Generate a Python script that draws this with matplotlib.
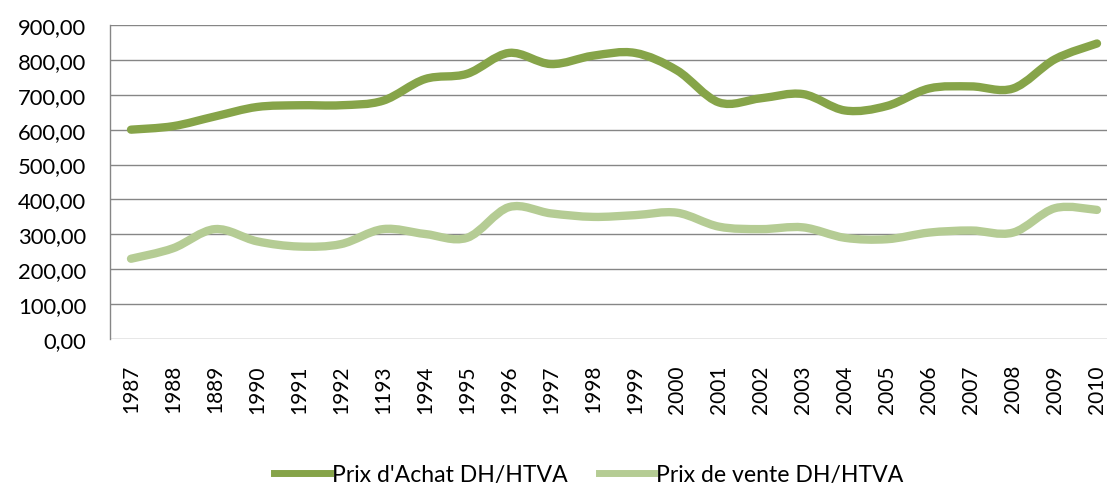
import matplotlib
matplotlib.use("Agg")
import matplotlib.pyplot as plt
from matplotlib.path import Path
from matplotlib.patches import PathPatch
from matplotlib.lines import Line2D
from matplotlib.ticker import FuncFormatter
import numpy as np

# data (tick labels kept as printed, typos included)
years = ["1987", "1988", "1889", "1990", "1991", "1992", "1193", "1994", "1995",
         "1996", "1997", "1998", "1999", "2000", "2001", "2002", "2003", "2004",
         "2005", "2006", "2007", "2008", "2009", "2010"]
achat = [600, 610, 638, 665, 670, 670, 683, 745, 760, 820, 788, 812, 820, 770,
         678, 690, 702, 655, 668, 718, 724, 718, 802, 847]
vente = [230, 260, 315, 280, 265, 272, 315, 301, 290, 378, 360, 350, 355, 362,
         322, 315, 320, 290, 286, 305, 311, 305, 375, 370]

dark = "#86a449"
light = "#b5cc94"
grid_col = "#868686"

plt.rcParams["font.family"] = ["Lato", "DejaVu Sans"]


def smooth_path(xs, ys):
    # excel-style smoothed line: bezier segments through each point
    pts = np.column_stack([xs, ys]).astype(float)
    n = len(pts)
    verts = [pts[0]]
    codes = [Path.MOVETO]
    for i in range(n - 1):
        p0 = pts[i - 1] if i > 0 else pts[i]
        p1 = pts[i]
        p2 = pts[i + 1]
        p3 = pts[i + 2] if i + 2 < n else pts[i + 1]
        c1 = p1 + (p2 - p0) / 6.0
        c2 = p2 - (p3 - p1) / 6.0
        verts += [c1, c2, p2]
        codes += [Path.CURVE4] * 3
    return Path(verts, codes)


fig = plt.figure(figsize=(11.07, 4.89), dpi=100)
ax = fig.add_axes([110 / 1107, 149 / 489, 1008 / 1107, 314 / 489])

x = np.arange(len(years))
for vals, col in [(achat, dark), (vente, light)]:
    patch = PathPatch(smooth_path(x, vals), facecolor="none", edgecolor=col,
                      lw=6, capstyle="round", joinstyle="round", zorder=3)
    ax.add_patch(patch)

ax.set_xlim(-0.5, len(years) - 0.5)
ax.set_ylim(0, 900)
ax.set_yticks(np.arange(0, 901, 100))
ax.yaxis.set_major_formatter(FuncFormatter(lambda v, p: f"{v:.2f}".replace(".", ",")))
ax.set_xticks(x)
ax.set_xticklabels(years, rotation=90)
ax.tick_params(axis="both", length=0, colors="black")
ax.tick_params(axis="y", pad=17, labelsize=15.8)
ax.tick_params(axis="x", pad=18, labelsize=15)
ax.grid(axis="y", color=grid_col, lw=1)
ax.set_axisbelow(True)
for s in ["top", "right", "bottom"]:
    ax.spines[s].set_visible(False)
ax.spines["left"].set_color(grid_col)
ax.spines["left"].set_linewidth(1)

handles = [Line2D([], [], color=dark, lw=5),
           Line2D([], [], color=light, lw=5)]
fig.legend(handles, ["Prix d'Achat DH/HTVA", "Prix de vente DH/HTVA"],
           loc="center", bbox_to_anchor=(589 / 1107, 1 - 476 / 489), ncol=2,
           frameon=False, fontsize=16.6, handlelength=2.4, handletextpad=0.1,
           columnspacing=1.35, borderpad=0)

fig.savefig("out.png", dpi=100)
